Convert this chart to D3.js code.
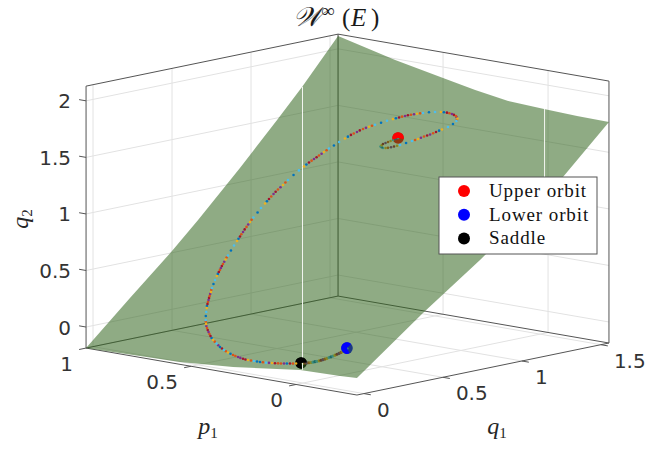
<!DOCTYPE html>
<html>
<head>
<meta charset="utf-8">
<script src="https://cdn.jsdelivr.net/npm/d3@7"></script>
<style>
  html, body { margin: 0; padding: 0; background: #fff; }
  svg { display: block; }
</style>
</head>
<body>
<svg id="chart" width="664" height="454"></svg>
<script>
// axis limits and ticks
const p1Limits = [-0.29, 1];
const q1Limits = [-0.044, 1.551];
const q2Limits = [-0.186, 2.13];
const p1Ticks = [0, 0.5, 1];
const q1Ticks = [0, 0.5, 1, 1.5];
const q2Ticks = [0, 0.5, 1, 1.5, 2];

// surface outline
const surfP1 = [1, 0.728, 0.5, 0.347, 0.19, 0.019, -0.138, -0.29, -0.29, -0.29, -0.29, -0.29, -0.21, -0.019, 0.3, 0.552, 0.776, 1, 1, 1, 1, 1, 1, 1];
const surfQ1 = [1.551, 1.551, 1.551, 1.551, 1.551, 1.551, 1.551, 1.551, 1.26, 0.735, 0.374, -0.044, -0.044, -0.044, -0.044, -0.044, -0.044, -0.044, 0.234, 0.5, 0.665, 0.93, 1.165, 1.323];
const surfQ2 = [2.113, 1.989, 1.904, 1.847, 1.8, 1.784, 1.773, 1.769, 1.366, 0.783, 0.419, -0.035, -0.044, -0.052, -0.128, -0.165, -0.175, -0.186, 0.177, 0.515, 0.742, 1.126, 1.482, 1.729];

// seams of the surface mesh
const seamP1 = [[1, 0], [-0.2, -0.2]];
const seamQ1 = [[1.326, -0.003], [1.263, 1.263]];
const seamQ2 = [[1.729, -0.069], [1.938, 1.258]];

// trajectory from the saddle up to the upper orbit
const orbitP1 = [0.024,0.05,0.077,0.103,0.13,0.157,0.186,0.216,0.246,0.272,0.301,0.33,0.362,0.389,0.418,0.446,0.475,0.5,0.525,0.545,0.564,0.579,0.593,0.606,0.617,0.628,0.638,0.647,0.656,0.665,0.673,0.68,0.687,0.692,0.698,0.703,0.708,0.711,0.717,0.722,0.725,0.728,0.731,0.734,0.736,0.737,0.737,0.738,0.736,0.736,0.734,0.731,0.725,0.722,0.717,0.71,0.703,0.696,0.688,0.68,0.672,0.664,0.654,0.646,0.634,0.622,0.609,0.596,0.58,0.563,0.547,0.53,0.513,0.495,0.477,0.458,0.438,0.418,0.397,0.375,0.353,0.328,0.305,0.283,0.268,0.264,0.267,0.275,0.29,0.304,0.318,0.334,0.349,0.365,0.382,0.397];
const orbitQ1 = [-0.012,-0.016,-0.018,-0.021,-0.023,-0.025,-0.025,-0.023,-0.021,-0.018,-0.011,-0.004,0.006,0.017,0.03,0.046,0.062,0.079,0.1,0.117,0.136,0.154,0.173,0.193,0.211,0.23,0.25,0.269,0.289,0.308,0.328,0.347,0.368,0.387,0.408,0.428,0.451,0.47,0.497,0.523,0.546,0.569,0.592,0.618,0.643,0.666,0.692,0.715,0.738,0.763,0.789,0.813,0.837,0.865,0.893,0.918,0.941,0.963,0.984,1.005,1.026,1.047,1.065,1.087,1.108,1.13,1.151,1.172,1.189,1.204,1.221,1.236,1.251,1.266,1.28,1.292,1.304,1.315,1.325,1.334,1.342,1.347,1.348,1.344,1.334,1.322,1.304,1.283,1.265,1.246,1.227,1.21,1.192,1.175,1.16,1.142];
const orbitQ2 = [-0.018,-0.025,-0.033,-0.039,-0.044,-0.049,-0.053,-0.054,-0.055,-0.054,-0.05,-0.043,-0.034,-0.024,-0.01,0.007,0.024,0.046,0.068,0.092,0.116,0.141,0.166,0.191,0.218,0.244,0.271,0.298,0.325,0.352,0.378,0.406,0.433,0.462,0.489,0.517,0.548,0.577,0.612,0.647,0.679,0.711,0.744,0.78,0.815,0.849,0.885,0.918,0.952,0.984,1.022,1.056,1.09,1.127,1.165,1.201,1.231,1.263,1.29,1.317,1.345,1.372,1.397,1.424,1.453,1.482,1.506,1.531,1.551,1.569,1.587,1.606,1.622,1.638,1.653,1.666,1.678,1.688,1.698,1.705,1.71,1.711,1.706,1.697,1.682,1.665,1.643,1.62,1.598,1.577,1.555,1.538,1.516,1.498,1.479,1.462];

// the extra dots of the dense runs along that trajectory
const denseP1 = [0.037,0.064,0.09,0.117,0.144,0.172,0.201,0.231,0.259,0.287,0.316,0.346,0.376,0.404,0.432,0.461,0.488,0.513,0.535,0.555,0.572,0.623,0.633,0.643,0.652,0.661,0.69,0.695,0.701,0.706,0.71,0.727,0.73,0.733,0.735,0.737,0.736,0.735,0.733,0.728,0.724,0.7,0.692,0.684,0.676,0.668,0.628,0.616,0.603,0.588,0.572,0.504,0.486,0.468,0.448,0.428,0.341,0.317,0.294,0.276,0.266,0.297,0.311,0.326,0.342,0.357];
const denseQ1 = [-0.014,-0.017,-0.02,-0.022,-0.024,-0.025,-0.024,-0.022,-0.02,-0.015,-0.008,0.001,0.012,0.024,0.038,0.054,0.07,0.09,0.108,0.126,0.145,0.22,0.24,0.26,0.279,0.298,0.378,0.398,0.418,0.44,0.46,0.558,0.58,0.605,0.63,0.654,0.75,0.776,0.801,0.825,0.851,0.952,0.974,0.995,1.016,1.037,1.119,1.14,1.161,1.18,1.197,1.258,1.273,1.286,1.298,1.31,1.345,1.348,1.346,1.339,1.328,1.256,1.237,1.219,1.201,1.184];
const denseQ2 = [-0.022,-0.029,-0.036,-0.042,-0.047,-0.051,-0.054,-0.055,-0.055,-0.052,-0.047,-0.039,-0.029,-0.017,-0.002,0.016,0.035,0.057,0.08,0.104,0.129,0.231,0.258,0.285,0.312,0.339,0.448,0.476,0.503,0.533,0.563,0.695,0.728,0.762,0.798,0.832,0.968,1.003,1.039,1.073,1.109,1.247,1.277,1.304,1.331,1.359,1.468,1.494,1.519,1.541,1.56,1.63,1.646,1.66,1.672,1.683,1.711,1.709,1.702,1.69,1.674,1.588,1.566,1.547,1.527,1.507];

// part of the trajectory that runs below the surface: end of the upper loop
const hiddenP1 = [0.406,0.416,0.425,0.435,0.444,0.454,0.462,0.469,0.468,0.467,0.461,0.455,0.448,0.442,0.435,0.429];
const hiddenQ1 = [1.135,1.129,1.122,1.116,1.113,1.11,1.112,1.114,1.12,1.127,1.135,1.143,1.15,1.157,1.165,1.172];
const hiddenQ2 = [1.454,1.446,1.439,1.432,1.429,1.426,1.43,1.433,1.443,1.453,1.461,1.469,1.478,1.487,1.496,1.505];

// and the branch from the saddle to the lower orbit
const lowerP1 = [-0.007,-0.013,-0.021,-0.029,-0.037,-0.044,-0.05,-0.057,-0.064,-0.07,-0.076,-0.082,-0.088,-0.093,-0.098,-0.103,-0.108,-0.113,-0.118,-0.122,-0.125,-0.127,-0.13,-0.132];
const lowerQ1 = [-0.008,-0.004,-0.002,-0.001,0.002,0.005,0.009,0.013,0.017,0.021,0.025,0.03,0.035,0.041,0.047,0.053,0.059,0.065,0.071,0.078,0.085,0.091,0.097,0.103];
const lowerQ2 = [-0.005,-0.004,0,0.003,0.007,0.011,0.016,0.021,0.026,0.032,0.038,0.044,0.051,0.058,0.064,0.071,0.078,0.086,0.093,0.101,0.108,0.116,0.124,0.132];

// equilibria
const eqNames = ["Upper orbit", "Lower orbit", "Saddle"];
const eqColors = ["#ff0000", "#0000ff", "#000000"];
const eqP1 = [0.429, -0.132, 0];
const eqQ1 = [1.172, 0.103, -0.012];
const eqQ2 = [1.505, 0.136, -0.005];

const orbitColors = ["#EDB120", "#A2142F", "#7E2F8E", "#D95319", "#EDB120", "#4DBEEE", "#0072BD", "#4DBEEE"];
const denseColors = ["#D95319", "#0072BD", "#D95319", "#A2142F", "#7E2F8E"];

const svg = d3.select("#chart");

// oblique view: every data axis adds a fixed pixel step
const xFromP = d3.scaleLinear().domain([0, 1]).range([0, -210]);
const xFromQ = d3.scaleLinear().domain([0, 1]).range([0, 158]);
const yFromP = d3.scaleLinear().domain([0, 1]).range([0, -36.4]);
const yFromQ = d3.scaleLinear().domain([0, 1]).range([0, -32.6]);
const yFromZ = d3.scaleLinear().domain([0, 1]).range([0, -113.1]);

const px = (p, q) => 303 + xFromP(p) + xFromQ(q);
const py = (p, q, z) => 362 + yFromP(p) + yFromQ(q) + yFromZ(z);

function seg(g, a, b, color, width) {
  g.append("line")
    .attr("x1", px(a[0], a[1])).attr("y1", py(a[0], a[1], a[2]))
    .attr("x2", px(b[0], b[1])).attr("y2", py(b[0], b[1], b[2]))
    .attr("stroke", color).attr("stroke-width", width);
}

const [pMin, pMax] = p1Limits;
const [qMin, qMax] = q1Limits;
const [zMin, zMax] = q2Limits;

// grid on the floor and the two back walls
const grid = svg.append("g");
const gridColor = "#e2e2e2";
q2Ticks.forEach(z => {
  seg(grid, [pMax, qMin, z], [pMax, qMax, z], gridColor, 1);
  seg(grid, [pMax, qMax, z], [pMin, qMax, z], gridColor, 1);
});
q1Ticks.forEach(q => {
  seg(grid, [pMax, q, zMin], [pMax, q, zMax], gridColor, 1);
  seg(grid, [pMin, q, zMin], [pMax, q, zMin], gridColor, 1);
});
p1Ticks.forEach(p => {
  seg(grid, [p, qMax, zMin], [p, qMax, zMax], gridColor, 1);
  seg(grid, [p, qMin, zMin], [p, qMax, zMin], gridColor, 1);
});

// box edges
const box = svg.append("g");
const boxColor = "#555555";
seg(box, [pMax, qMin, zMin], [pMax, qMin, zMax], boxColor, 1);
seg(box, [pMax, qMin, zMax], [pMax, qMax, zMax], boxColor, 1);
seg(box, [pMax, qMax, zMax], [pMin, qMax, zMax], boxColor, 1);
seg(box, [pMin, qMax, zMax], [pMin, qMax, zMin], boxColor, 1);
seg(box, [pMax, qMax, zMin], [pMax, qMax, zMax], boxColor, 1);
seg(box, [pMax, qMin, zMin], [pMax, qMax, zMin], boxColor, 1);
seg(box, [pMax, qMax, zMin], [pMin, qMax, zMin], boxColor, 1);
seg(box, [pMax, qMin, zMin], [pMin, qMin, zMin], boxColor, 1);
seg(box, [pMin, qMin, zMin], [pMin, qMax, zMin], boxColor, 1);

// ticks
p1Ticks.forEach(p => seg(box, [p, qMin, zMin], [p, qMin - 0.044, zMin], boxColor, 1));
q1Ticks.forEach(q => seg(box, [pMin, q, zMin], [pMin - 0.033, q, zMin], boxColor, 1));
q2Ticks.forEach(z => seg(box, [pMax, qMin, z], [pMax + 0.033, qMin, z], boxColor, 1));

function drawDots(g, ps, qs, zs, r, colors) {
  g.selectAll(null)
    .data(ps)
    .join("circle")
      .attr("cx", (d, i) => px(d, qs[i]))
      .attr("cy", (d, i) => py(d, qs[i], zs[i]))
      .attr("r", r)
      .attr("fill", (d, i) => colors[i % colors.length]);
}

// everything under the surface
const under = svg.append("g");
eqP1.forEach((p, i) => {
  under.append("circle")
    .attr("cx", px(p, eqQ1[i])).attr("cy", py(p, eqQ1[i], eqQ2[i]))
    .attr("r", 5.8).attr("fill", eqColors[i]);
});
drawDots(under, lowerP1, lowerQ1, lowerQ2, 1.6, orbitColors);
drawDots(under, hiddenP1, hiddenQ1, hiddenQ2, 1.3, orbitColors);

// surface
const surfLine = d3.line().x(d => d[0]).y(d => d[1]);
svg.append("path")
  .attr("d", surfLine(surfP1.map((p, i) => [px(p, surfQ1[i]), py(p, surfQ1[i], surfQ2[i])])) + "Z")
  .attr("fill", "#33661f")
  .attr("fill-opacity", 0.55);

const seams = svg.append("g");
seamP1.forEach((s, i) => {
  seg(seams, [s[0], seamQ1[i][0], seamQ2[i][0]], [s[1], seamQ1[i][1], seamQ2[i][1]], "#f2f5f0", 1);
});

// part of each ball that pokes out of the surface
const ballArc = d3.arc().innerRadius(0).outerRadius(5.8);
const ballAngles = [[-1.9, 1.75], [-3.6, 0.8], [-3.3, 1.5]];
eqP1.forEach((p, i) => {
  svg.append("path")
    .attr("transform", `translate(${px(p, eqQ1[i])},${py(p, eqQ1[i], eqQ2[i])})`)
    .attr("d", ballArc({ startAngle: ballAngles[i][0], endAngle: ballAngles[i][1] }))
    .attr("fill", eqColors[i]);
});

drawDots(svg.append("g"), denseP1, denseQ1, denseQ2, 1.3, denseColors);
drawDots(svg.append("g"), orbitP1, orbitQ1, orbitQ2, 1.3, orbitColors);

// tick labels
const tickFont = "'DejaVu Sans', sans-serif";
const labels = svg.append("g")
  .attr("font-family", tickFont).attr("font-size", 20).attr("fill", "#333333");
p1Ticks.forEach(p => {
  labels.append("text").text(p)
    .attr("x", px(p, qMin) - 13).attr("y", py(p, qMin, zMin) + 23)
    .attr("text-anchor", "end");
});
q1Ticks.forEach(q => {
  labels.append("text").text(q)
    .attr("x", px(pMin, q) + 13).attr("y", py(pMin, q, zMin) + 23)
    .attr("text-anchor", "start");
});
q2Ticks.forEach(z => {
  labels.append("text").text(z)
    .attr("x", px(pMax, qMin) - 15).attr("y", py(pMax, qMin, z) + 7.5)
    .attr("text-anchor", "end");
});

// axis names and title
const mathFont = "'Liberation Serif', 'DejaVu Serif', serif";
function mathLabel(x, y, name, sub, rotate) {
  const t = svg.append("text")
    .attr("transform", `translate(${x},${y}) rotate(${rotate})`)
    .attr("font-family", mathFont).attr("font-size", 24).attr("fill", "#262626")
    .attr("text-anchor", "middle");
  t.append("tspan").attr("font-style", "italic").text(name);
  t.append("tspan").attr("font-size", 15).attr("dy", 4).text(sub);
}
mathLabel(208, 434, "p", "1", 0);
mathLabel(497, 434, "q", "1", 0);
mathLabel(28, 219, "q", "2", -90);

const title = svg.append("text")
  .attr("y", 26)
  .attr("font-family", mathFont).attr("font-size", 25).attr("fill", "#1a1a1a");
title.append("tspan").attr("x", 293).attr("font-style", "italic").attr("font-size", 27).text("\u{1D4B2}");
title.append("tspan").attr("x", 321).attr("font-size", 19).attr("dy", -9).text("\u221E");
title.append("tspan").attr("x", 342).attr("dy", 9).text("(");
title.append("tspan").attr("x", 351).attr("font-style", "italic").text("E");
title.append("tspan").attr("x", 371).text(")");

// legend
const legend = svg.append("g").attr("transform", "translate(439,177)");
legend.append("rect")
  .attr("x", 0).attr("y", 0).attr("width", 158).attr("height", 77)
  .attr("fill", "#fff").attr("stroke", "#555555").attr("stroke-width", 1);
eqNames.forEach((name, i) => {
  legend.append("circle")
    .attr("cx", 25).attr("cy", 14 + i * 23.7).attr("r", 6).attr("fill", eqColors[i]);
  legend.append("text")
    .attr("x", 50).attr("y", 20 + i * 23.7)
    .attr("font-family", mathFont).attr("font-size", 19).attr("fill", "#111")
    .style("letter-spacing", "0.9px")
    .text(name);
});
</script>
</body>
</html>
